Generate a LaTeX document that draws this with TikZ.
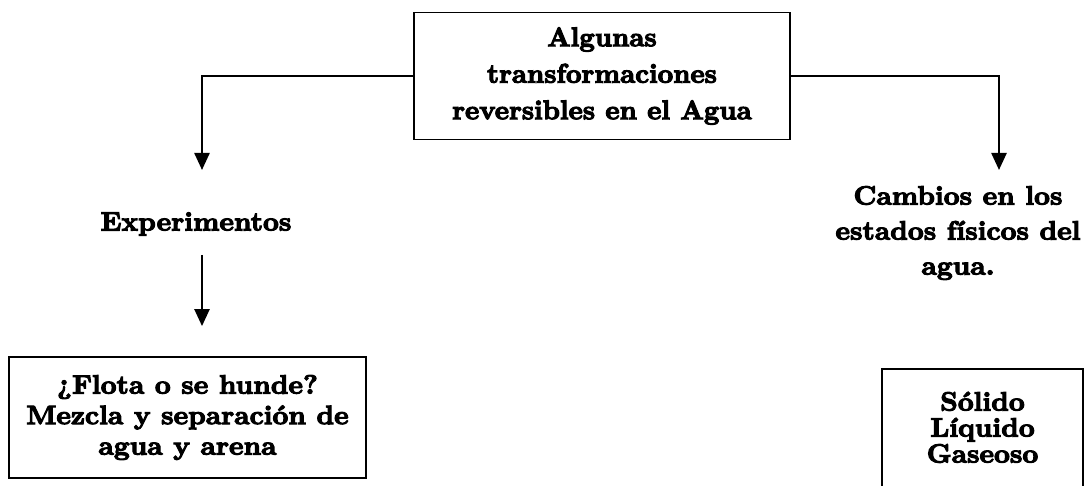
\documentclass[tikz,border=0pt]{standalone}
\usepackage{fontspec}
\setmainfont{lmroman10-regular.otf}[BoldFont=lmroman10-bold.otf, BoldFeatures={FakeBold=4}]
\newfontfamily\widebold{lmroman10-bold.otf}[FakeBold=4, FakeStretch=1.04]
\usepackage{tikz}
\usetikzlibrary{arrows.meta}

\begin{document}
\begin{tikzpicture}[
    x=1pt, y=-1pt,
    every node/.style={font=\fontsize{26.5}{35}\selectfont\widebold, align=center, inner sep=0pt},
    box/.style={draw, line width=1.8pt},
    arr/.style={line width=2.4pt, -{Triangle[length=17pt,width=15pt]}}
]
  \useasboundingbox (0,0) rectangle (1084,486);

  % Main box (top)
  \node[box, minimum width=376pt, minimum height=127pt,
        font=\fontsize{27}{36.5}\selectfont\bfseries] (top) at (602,76)
    {Algunas\\transformaciones\\reversibles en el Agua};

  % Left branch
  \node (expe) at (196,224) {Experimentos};
  \node[box, minimum width=357pt, minimum height=121pt,
        font=\fontsize{26.5}{30.5}\selectfont\widebold] (flota) at (187.5,417.5)
    {¿Flota o se hunde?\\Mezcla y separación de\\agua y arena};

  % Right branch
  \node (cambios) at (958,233)
    {Cambios en los\\estados físicos del\\agua.};
  \node[box, anchor=north, minimum width=201pt, inner ysep=23pt, text depth=20pt,
        font=\fontsize{26.5}{26}\selectfont\widebold] (estados) at (982.5,368)
    {Sólido\\Líquido\\Gaseoso};

  % Arrows
  \coordinate (ltip) at (202,170);
  \coordinate (rtip) at (999,170);
  \draw[arr] (top.west) -| (ltip);
  \draw[arr] (top.east) -| (rtip);
  \draw[arr, shorten <=19pt, shorten >=30pt]
    ([xshift=6pt]expe.south) -- ([xshift=6pt]expe.south |- flota.north);
\end{tikzpicture}
\end{document}
